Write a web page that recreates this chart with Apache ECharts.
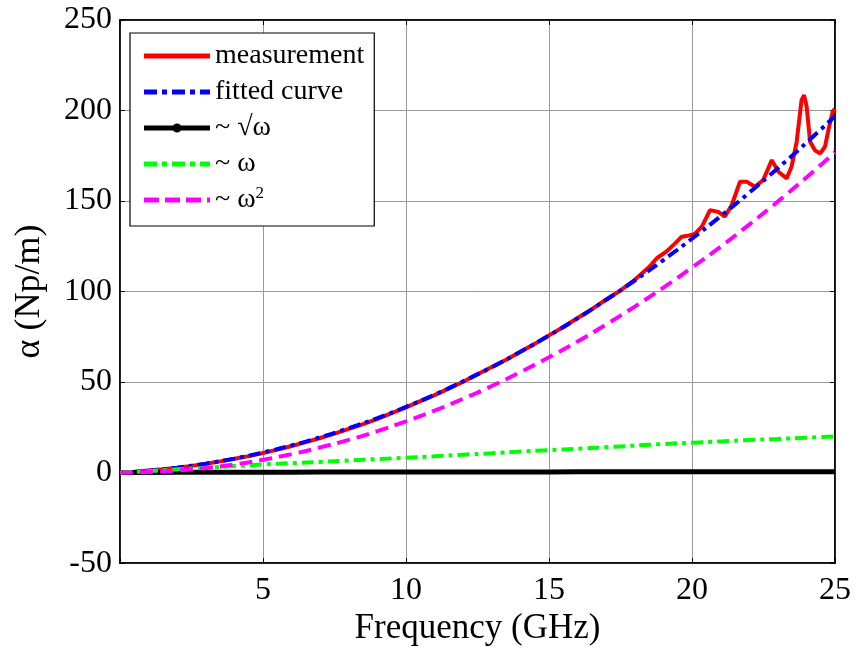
<!DOCTYPE html>
<html>
<head>
<meta charset="utf-8">
<script src="https://cdn.jsdelivr.net/npm/echarts@6/dist/echarts.min.js"></script>
<style>html,body{margin:0;padding:0;background:#fff}#c{width:855px;height:651px}</style>
</head>
<body>
<div id="c"></div>
<script>
const xTicks = [0, 5, 10, 15, 20, 25];
const yTicks = [-50, 0, 50, 100, 150, 200, 250];

const measF = [0,0.5,1,1.5,2,2.5,3,3.5,4,4.5,5,5.5,6,6.5,7,7.5,8,8.5,9,9.5,10,10.5,11,11.5,12,12.5,13,13.5,14,14.5,15,15.5,16,16.5,17,17.5,18,18.5,18.77,19.1,19.4,19.64,19.9,20.1,20.35,20.63,20.92,21.15,21.39,21.68,21.91,22.2,22.49,22.79,23.02,23.31,23.48,23.66,23.83,23.92,24.01,24.13,24.3,24.48,24.65,24.77,24.92,25];
const measV = [0,0.5,1.1,1.8,2.7,3.7,4.9,6.2,7.6,9.1,10.8,12.7,14.7,16.8,19.1,21.5,24.1,26.8,29.7,32.8,36.0,39.5,42.8,46.5,50.2,54.3,58.3,62.3,66.8,71.1,75.8,80.4,85.4,90.3,95.6,100.6,106.5,113.5,118.4,122,126.5,130.3,131,131.8,136,145,144,141.4,147.8,160.7,160.7,157.9,161.6,172.6,166.2,162.5,168.9,182.7,205.7,208.5,202,182.7,178,176.3,180,189.2,199.3,201];

const curveF = [0,1,2,3,4,5,6,7,8,9,10,11,12,13,14,15,16,17,18,19,20,21,22,23,24,25];
const fittedV = [0,1.08,2.73,4.95,7.73,11.1,15.0,19.5,24.5,30.1,36.3,43.0,50.4,58.2,66.7,75.7,85.2,95.4,106.1,117.4,129.2,141.6,154.6,168.1,182.2,196.9];
const sqrtV = [0,0.1,0.14,0.17,0.2,0.22,0.24,0.26,0.28,0.3,0.32,0.33,0.35,0.36,0.37,0.39,0.4,0.41,0.42,0.44,0.45,0.46,0.47,0.48,0.49,0.5];
const linV = [0,0.8,1.8,2.6,3.6,4.5,5.2,5.9,6.7,7.5,8.2,9.0,9.9,10.7,11.6,12.4,13.2,14.0,14.9,15.8,16.5,17.2,18.0,18.6,19.3,20.0];
const quadV = [0,0.28,1.13,2.55,4.53,7.08,10.2,13.9,18.1,22.9,28.3,34.2,40.8,47.8,55.5,63.7,72.4,81.8,91.7,102.2,113.2,124.8,137.0,149.7,163.0,176.9];

const names = ['measurement', 'fitted curve', '~ √ω', '~ ω', '~ ω²'];

const zip = (xs, ys) => xs.map((x, i) => [x, ys[i]]);
const FONT = '"Liberation Serif", "Times New Roman", serif';

// legend icon shapes (66 x 14 box, line drawn in the middle)
const BOX = 'M0,0Z M66,14Z ';
const seg = (a, b) => `M${a},4.6H${b}V9.4H${a}Z `;
const iconSolid = 'path://' + BOX + seg(0, 66);
const iconDashDot = 'path://' + BOX + seg(0, 13) + seg(18, 23) + seg(28, 41) + seg(46, 51) + seg(56, 66);
const iconMarker = 'path://' + BOX + seg(0, 66) + 'M28.5,7a4.5,4.5 0 1,1 9,0a4.5,4.5 0 1,1 -9,0Z';
const iconDash = 'path://' + BOX + seg(0, 15) + seg(21, 36) + seg(42, 57) + seg(63, 66);
const icons = [iconSolid, iconDashDot, iconMarker, iconDashDot, iconDash];

const chart = echarts.init(document.getElementById('c'), null, {renderer: 'canvas'});
const axisCommon = {
  axisLine: {show: true, onZero: false, lineStyle: {color: '#000', width: 1.5}},
  axisTick: {show: true, inside: true, length: 5, lineStyle: {color: '#000', width: 1}},
};
chart.setOption({
  animation: false,
  backgroundColor: '#fff',
  grid: {left: 120, right: 20, top: 20, bottom: 87, show: true, borderColor: '#000', borderWidth: 1.5, backgroundColor: 'transparent'},
  legend: {
    orient: 'vertical', left: 130, top: 33,
    backgroundColor: '#fff', borderColor: '#000', borderWidth: 1.2, borderRadius: 0,
    padding: [8, 10, 10, 14],
    itemWidth: 66, itemHeight: 14, itemGap: 6,
    itemStyle: {borderWidth: 0},
    data: names.map((n, i) => ({name: n, icon: icons[i]})),
    textStyle: {fontFamily: FONT, fontSize: 28, lineHeight: 30, color: '#000',
      rich: {sup: {fontFamily: FONT, fontSize: 17, lineHeight: 30, verticalAlign: 'top', padding: [0,0,14,0], color: '#000'}}},
    formatter: n => n === '~ ω²' ? '~ ω{sup|2}' : n
  },
  xAxis: [{
    type: 'value', min: xTicks[0], max: xTicks[xTicks.length - 1], interval: 5,
    name: 'Frequency (GHz)', nameLocation: 'middle', nameGap: 45,
    nameTextStyle: {fontFamily: FONT, fontSize: 35, color: '#000'},
    ...axisCommon,
    axisLabel: {fontFamily: FONT, fontSize: 32, color: '#000', margin: 11,
      formatter: v => (v === 0 ? '' : String(v))},
    splitLine: {show: true, lineStyle: {color: '#999', width: 1}}
  }, {
    type: 'value', position: 'top', min: 0, max: 25, interval: 5,
    ...axisCommon, axisLabel: {show: false}, splitLine: {show: false}
  }],
  yAxis: [{
    type: 'value', min: yTicks[0], max: yTicks[yTicks.length - 1], interval: 50,
    name: 'α (Np/m)', nameLocation: 'middle', nameGap: 72, nameRotate: 90,
    nameTextStyle: {fontFamily: FONT, fontSize: 36, color: '#000'},
    ...axisCommon,
    axisLabel: {fontFamily: FONT, fontSize: 32, color: '#000', margin: 8},
    splitLine: {show: true, lineStyle: {color: '#999', width: 1}}
  }, {
    type: 'value', position: 'right', min: -50, max: 250, interval: 50,
    ...axisCommon, axisLabel: {show: false}, splitLine: {show: false}
  }],
  series: [
    {name: names[0], type: 'line', data: zip(measF, measV), symbol: 'none', smooth: false,
      lineStyle: {color: '#ff0000', width: 4}, itemStyle: {color: '#ff0000'}},
    {name: names[1], type: 'line', data: zip(curveF, fittedV), symbol: 'none', smooth: true,
      lineStyle: {color: '#0000ff', width: 4, type: [12, 5, 4, 5]}, itemStyle: {color: '#0000ff'}},
    {name: names[2], type: 'line', data: zip(curveF, sqrtV), symbol: 'none',
      lineStyle: {color: '#000', width: 5}, itemStyle: {color: '#000'}},
    {name: names[3], type: 'line', data: zip(curveF, linV), symbol: 'none', smooth: true,
      lineStyle: {color: '#00ff00', width: 4, type: [12, 5, 4, 5]}, itemStyle: {color: '#00ff00'}},
    {name: names[4], type: 'line', data: zip(curveF, quadV), symbol: 'none', smooth: true,
      lineStyle: {color: '#ff00ff', width: 4, type: [13, 7]}, itemStyle: {color: '#ff00ff'}}
  ]
});
</script>
</body>
</html>
